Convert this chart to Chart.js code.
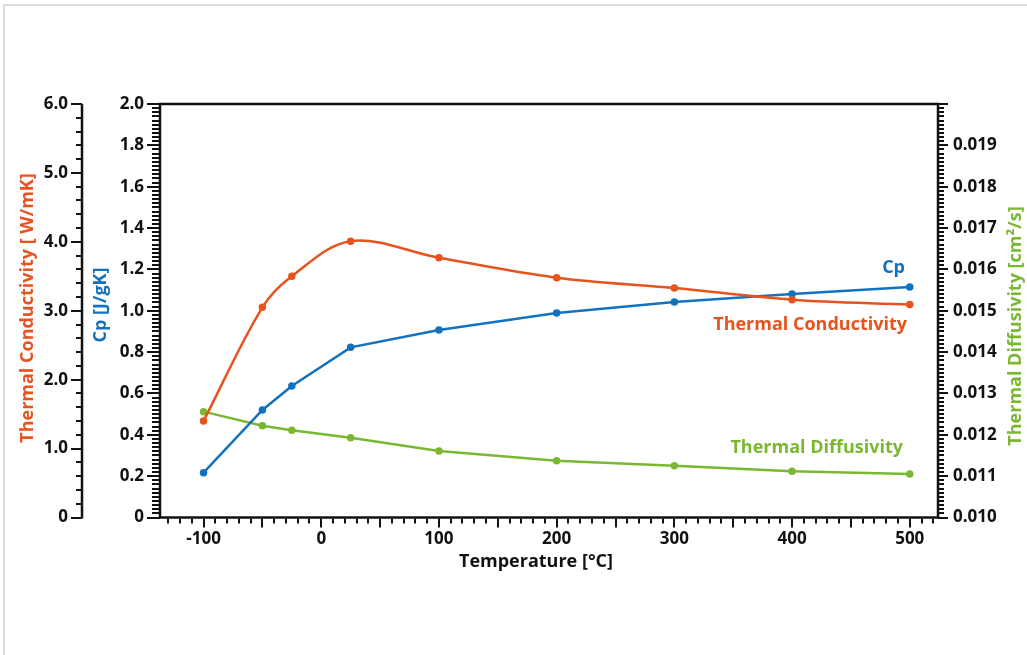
<!DOCTYPE html>
<html>
<head>
<meta charset="utf-8">
<script src="https://cdn.jsdelivr.net/npm/chart.js@4.4.0/dist/chart.umd.min.js"></script>
<style>
  html, body { margin: 0; padding: 0; background: #fff; }
  #wrap { position: relative; width: 1027px; height: 655px; }
</style>
</head>
<body>
<div id="wrap"><canvas id="grafico" width="1027" height="655"></canvas></div>
<script>
// --- datos ---
const temperaturas = [-100, -50, -25, 25, 100, 200, 300, 400, 500];
const conductividad = [1.40, 3.05, 3.50, 4.01, 3.77, 3.48, 3.33, 3.16, 3.09];
const cp = [0.217, 0.52, 0.636, 0.823, 0.907, 0.989, 1.042, 1.081, 1.115];
const difusividad = [0.01256, 0.01222, 0.01211, 0.01193, 0.01161, 0.01137, 0.01125, 0.01112, 0.01105];
const xTicks = [-100, 0, 100, 200, 300, 400, 500];

const NARANJA = "#e8521d";
const AZUL = "#1272bd";
const VERDE = "#7bb832";
const FUENTE = "'Open Sans', 'DejaVu Sans', sans-serif";

const puntos = (ys) => temperaturas.map((t, i) => ({ x: t, y: ys[i] }));

// marcas de las escalas (menores y mayores) y titulos
function marcas(g, escala, valores, lado, base) {
  g.save();
  g.strokeStyle = "#111";
  g.lineWidth = 2;
  valores.forEach(([v, largo]) => {
    const p = Math.round(escala.getPixelForValue(v));
    g.beginPath();
    if (lado === "izq") { g.moveTo(base, p); g.lineTo(base - largo, p); }
    else if (lado === "der") { g.moveTo(base, p); g.lineTo(base + largo, p); }
    else { g.moveTo(p, base); g.lineTo(p, base + largo); }
    g.stroke();
  });
  g.restore();
}

function titulo(g, texto, x, y, color, rotar) {
  g.save();
  g.translate(x, y);
  if (rotar) g.rotate(-Math.PI / 2);
  g.font = "bold 18px " + FUENTE;
  g.fillStyle = color;
  g.textAlign = "center";
  g.textBaseline = "middle";
  g.fillText(texto, 0, 0);
  g.restore();
}

const decoracion = {
  id: "decoracion",
  beforeDraw(c) {
    const g = c.ctx;
    g.save();
    g.fillStyle = "#dcdcdc";
    g.fillRect(3, 4, 1024, 2);
    g.fillRect(3, 4, 2, 651);
    g.restore();
  },
  afterDraw(c) {
    const g = c.ctx;
    const a = c.chartArea;
    const s = c.scales;

    // marco del grafico
    g.save();
    g.strokeStyle = "#111";
    g.lineWidth = 2.5;
    g.strokeRect(a.left, a.top, a.right - a.left, a.bottom - a.top);
    // eje de conductividad
    g.beginPath();
    g.moveTo(s.yTC.right, a.top);
    g.lineTo(s.yTC.right, a.bottom + 1);
    g.stroke();
    g.restore();

    const mCp = [], mTC = [], mTD = [], mX = [];
    for (let i = 0; i <= 100; i++) mCp.push([i * 0.02, i % 10 === 0 ? 13 : 8]);
    for (let i = 0; i <= 30; i++) mTC.push([i * 0.2, i % 5 === 0 ? 11 : 6]);
    for (let i = 0; i <= 100; i++) mTD.push([0.010 + i * 0.0001, i % 10 === 0 ? 10 : 6]);
    for (let i = -13; i <= 52; i++) mX.push([i * 10, i % 5 === 0 ? 9 : 5]);
    marcas(g, s.yCp, mCp, "izq", a.left);
    marcas(g, s.yTC, mTC, "izq", s.yTC.right);
    marcas(g, s.yTD, mTD, "der", a.right);
    marcas(g, s.x, mX, "abajo", a.bottom + 1);

    // titulos de ejes
    titulo(g, "Thermal Conductivity [ W/mK]", 28, 308, NARANJA, true);
    titulo(g, "Cp [J/gK]", 101, 305, AZUL, true);
    titulo(g, "Thermal Diffusivity [cm\u00b2/s]", 1016, 326, VERDE, true);
    titulo(g, "Temperature [\u00b0C]", 536, 562, "#111", false);

    // etiquetas de las series
    g.save();
    g.font = "bold 18px " + FUENTE;
    g.textAlign = "right";
    g.textBaseline = "middle";
    g.fillStyle = AZUL;
    g.fillText("Cp", 905, 268);
    g.fillStyle = NARANJA;
    g.fillText("Thermal Conductivity", 907, 325);
    g.fillStyle = VERDE;
    g.fillText("Thermal Diffusivity", 903, 448);
    g.restore();
  }
};

const fuenteTicks = { family: FUENTE, size: 17, weight: "bold" };
const sinRejilla = { drawOnChartArea: false, drawTicks: false, color: "transparent" };

new Chart(document.getElementById("grafico"), {
  type: "line",
  data: {
    datasets: [
      {
        label: "Thermal Conductivity",
        data: puntos(conductividad),
        yAxisID: "yTC",
        borderColor: NARANJA,
        backgroundColor: NARANJA,
        borderWidth: 2.5,
        pointRadius: 2.5,
        tension: 0.35
      },
      {
        label: "Cp",
        data: puntos(cp),
        yAxisID: "yCp",
        borderColor: AZUL,
        backgroundColor: AZUL,
        borderWidth: 2.5,
        pointRadius: 2.5,
        tension: 0
      },
      {
        label: "Thermal Diffusivity",
        data: puntos(difusividad),
        yAxisID: "yTD",
        borderColor: VERDE,
        backgroundColor: VERDE,
        borderWidth: 2.5,
        pointRadius: 2.5,
        tension: 0
      }
    ]
  },
  options: {
    responsive: false,
    animation: false,
    layout: { padding: { left: 10, top: 104, right: 0, bottom: 79 } },
    plugins: { legend: { display: false }, tooltip: { enabled: false } },
    scales: {
      x: {
        type: "linear",
        position: "bottom",
        min: -137,
        max: 524,
        grid: sinRejilla,
        border: { display: false },
        afterBuildTicks: (e) => { e.ticks = xTicks.map(v => ({ value: v })); },
        afterFit: (e) => { e.height = 58.5; },
        ticks: { color: "#111", font: fuenteTicks, padding: 11, maxRotation: 0, autoSkip: false }
      },
      yCp: {
        type: "linear",
        position: "left",
        weight: 0,
        min: 0,
        max: 2,
        grid: sinRejilla,
        border: { display: false },
        afterFit: (e) => { e.width = 78; },
        ticks: {
          stepSize: 0.2,
          color: "#111",
          font: fuenteTicks,
          padding: 16,
          callback: (v) => v === 0 ? "0" : v.toFixed(1)
        }
      },
      yTC: {
        type: "linear",
        position: "left",
        weight: 1,
        min: 0,
        max: 6,
        grid: sinRejilla,
        border: { display: false },
        afterFit: (e) => { e.width = 72; },
        ticks: {
          stepSize: 1,
          color: "#111",
          font: fuenteTicks,
          padding: 14,
          callback: (v) => v === 0 ? "0" : v.toFixed(1)
        }
      },
      yTD: {
        type: "linear",
        position: "right",
        min: 0.010,
        max: 0.020,
        grid: sinRejilla,
        border: { display: false },
        afterFit: (e) => { e.width = 89; },
        ticks: {
          stepSize: 0.001,
          color: "#111",
          font: fuenteTicks,
          padding: 15,
          callback: (v) => Math.abs(v - 0.02) < 1e-9 ? "" : v.toFixed(3)
        }
      }
    }
  },
  plugins: [decoracion]
});
</script>
</body>
</html>
